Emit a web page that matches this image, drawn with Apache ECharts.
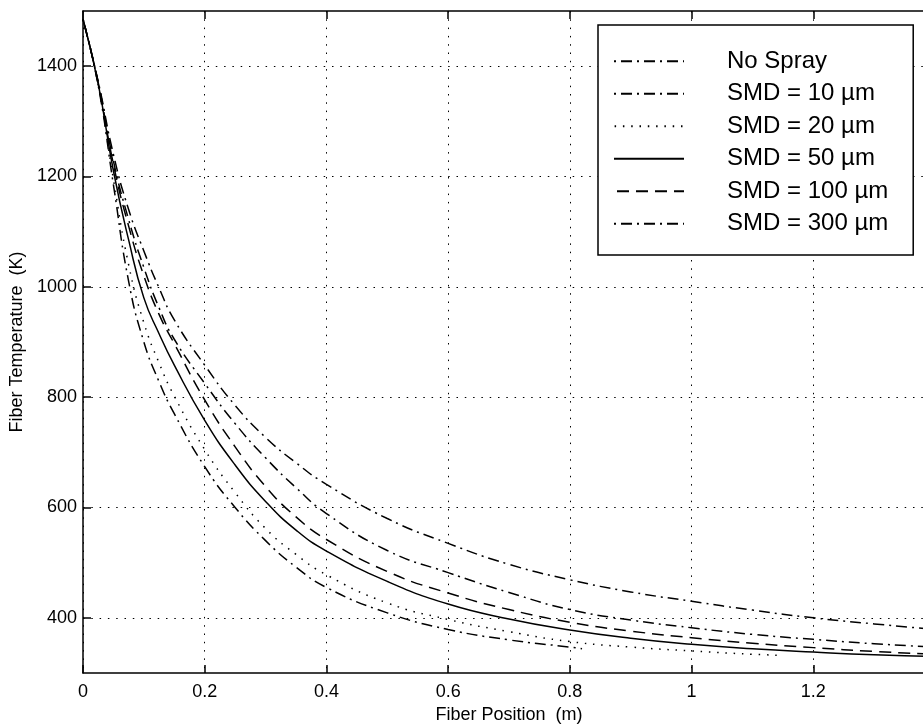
<!DOCTYPE html>
<html><head><meta charset="utf-8">
<script src="https://cdn.jsdelivr.net/npm/echarts@6/dist/echarts.min.js"></script>
<style>html,body{margin:0;padding:0;background:#fff;overflow:hidden}#c{width:935px;height:726px}</style>
</head><body><div id="c"></div>
<script>
// ---- data ----
const xFull = [0, 0.025, 0.05, 0.075, 0.1, 0.125, 0.15, 0.2, 0.25, 0.3, 0.35, 0.4, 0.5, 0.6, 0.7, 0.8, 0.9, 1.0, 1.1, 1.2, 1.3, 1.4];
const x20 = [0, 0.025, 0.05, 0.075, 0.1, 0.125, 0.15, 0.2, 0.25, 0.3, 0.35, 0.4, 0.5, 0.6, 0.7, 0.8, 0.9, 1.0, 1.1, 1.15];
const x10 = [0, 0.025, 0.05, 0.075, 0.1, 0.125, 0.15, 0.2, 0.25, 0.3, 0.35, 0.4, 0.5, 0.6, 0.7, 0.8, 0.82];
const noSpray = [1485, 1372, 1240, 1140, 1065, 998, 940, 858, 785, 727, 681, 642, 580, 535, 497, 469, 447, 430, 414, 400, 389, 379];
const smd300 = [1485, 1370, 1228, 1122, 1035, 962, 905, 825, 752, 690, 636, 589, 522, 482, 446, 415, 396, 382, 370, 361, 353, 347];
const smd100 = [1485, 1370, 1222, 1110, 1020, 950, 897, 795, 710, 638, 583, 542, 484, 445, 415, 392, 376, 364, 354, 346, 339, 334];
const smd50 = [1485, 1368, 1210, 1085, 980, 915, 858, 758, 677, 611, 559, 521, 466, 425, 398, 378, 363, 352, 344, 338, 333, 330];
const smd20 = [1485, 1366, 1195, 1040, 935, 862, 802, 705, 627, 562, 515, 478, 427, 397, 375, 357, 347, 340, 334, 332];
const smd10 = [1485, 1365, 1185, 1010, 900, 828, 770, 674, 600, 540, 492, 455, 409, 379, 360, 347, 344];
const seriesNames = ['No Spray', 'SMD = 10 \u00b5m', 'SMD = 20 \u00b5m', 'SMD = 50 \u00b5m', 'SMD = 100 \u00b5m', 'SMD = 300 \u00b5m'];
const yTicks = [400, 600, 800, 1000, 1200, 1400];
const xTitle = 'Fiber Position  (m)';
const yTitle = 'Fiber Temperature  (K)';

// ---- chart ----
const FONT = '"Liberation Sans", Arial, Helvetica, sans-serif';
const pair = (xs, ys) => xs.map((x, i) => [x, ys[i]]);
const DASHDOT = [11, 5, 2, 5];
const styles = [
  { type: DASHDOT, dashOffset: 16 },
  { type: DASHDOT, dashOffset: 16 },
  { type: [1.5, 6.8] },
  { type: 'solid' },
  { type: [12, 7] },
  { type: DASHDOT, dashOffset: 16 }
];
const dataSets = [pair(xFull, noSpray), pair(x10, smd10), pair(x20, smd20), pair(xFull, smd50), pair(xFull, smd100), pair(xFull, smd300)];

const chart = echarts.init(document.getElementById('c'), null, { renderer: 'canvas' });
const axisLineStyle = { color: '#000', width: 1.5 };
const gridLine = { show: true, lineStyle: { color: '#000', width: 1, type: [1.5, 6.8] } };
chart.setOption({
  animation: false,
  backgroundColor: '#fff',
  grid: { left: 83, right: 0, top: 11, bottom: 53, containLabel: false, outerBoundsMode: 'none' },
  legend: {
    orient: 'vertical',
    left: 598, top: 25,
    padding: [20, 25, 15, 15],
    itemWidth: 70, itemHeight: 14, itemGap: 0,
    backgroundColor: '#fff', borderColor: '#000', borderWidth: 1.5,
    itemStyle: { opacity: 0 },
    data: seriesNames,
    textStyle: { fontFamily: FONT, fontSize: 24, color: '#000', lineHeight: 32.5, padding: [0, 0, 0, 38] }
  },
  xAxis: [{
    type: 'value', min: 0, max: 1.4, interval: 0.2, position: 'bottom',
    axisLine: { show: true, onZero: false, lineStyle: axisLineStyle },
    axisTick: { show: true, inside: true, length: 8, lineStyle: axisLineStyle },
    axisLabel: { color: '#000', fontSize: 18, fontFamily: FONT, margin: 10, formatter: v => String(v) },
    splitLine: gridLine,
    name: xTitle, nameLocation: 'middle', nameGap: 32,
    nameTextStyle: { color: '#000', fontSize: 18, fontFamily: FONT }
  }, {
    type: 'value', min: 0, max: 1.4, interval: 0.2, position: 'top',
    axisLine: { show: true, onZero: false, lineStyle: axisLineStyle },
    axisTick: { show: true, inside: true, length: 8, lineStyle: axisLineStyle },
    axisLabel: { show: false }, splitLine: { show: false }
  }],
  yAxis: [{
    type: 'value', min: 300, max: 1500, position: 'left',
    axisLine: { show: true, onZero: false, lineStyle: axisLineStyle },
    axisTick: { show: true, inside: true, length: 8, lineStyle: axisLineStyle, customValues: yTicks },
    axisLabel: { color: '#000', fontSize: 18, fontFamily: FONT, margin: 6, customValues: yTicks, formatter: v => String(v) },
    splitLine: gridLine,
    name: yTitle, nameLocation: 'middle', nameGap: 40, nameRotate: 90,
    nameTextStyle: { color: '#000', fontSize: 18, fontFamily: FONT }
  }, {
    type: 'value', min: 300, max: 1500, position: 'right',
    axisLine: { show: true, onZero: false, lineStyle: axisLineStyle },
    axisTick: { show: false }, axisLabel: { show: false }, splitLine: { show: false }
  }],
  series: seriesNames.map((name, i) => ({
    name, type: 'line', data: dataSets[i],
    xAxisIndex: 0, yAxisIndex: 0,
    symbol: 'none', smooth: 0.5,
    lineStyle: Object.assign({ color: '#000', width: 1.5 }, styles[i]),
    itemStyle: { color: '#000' },
    z: 3
  }))
});
</script></body></html>
